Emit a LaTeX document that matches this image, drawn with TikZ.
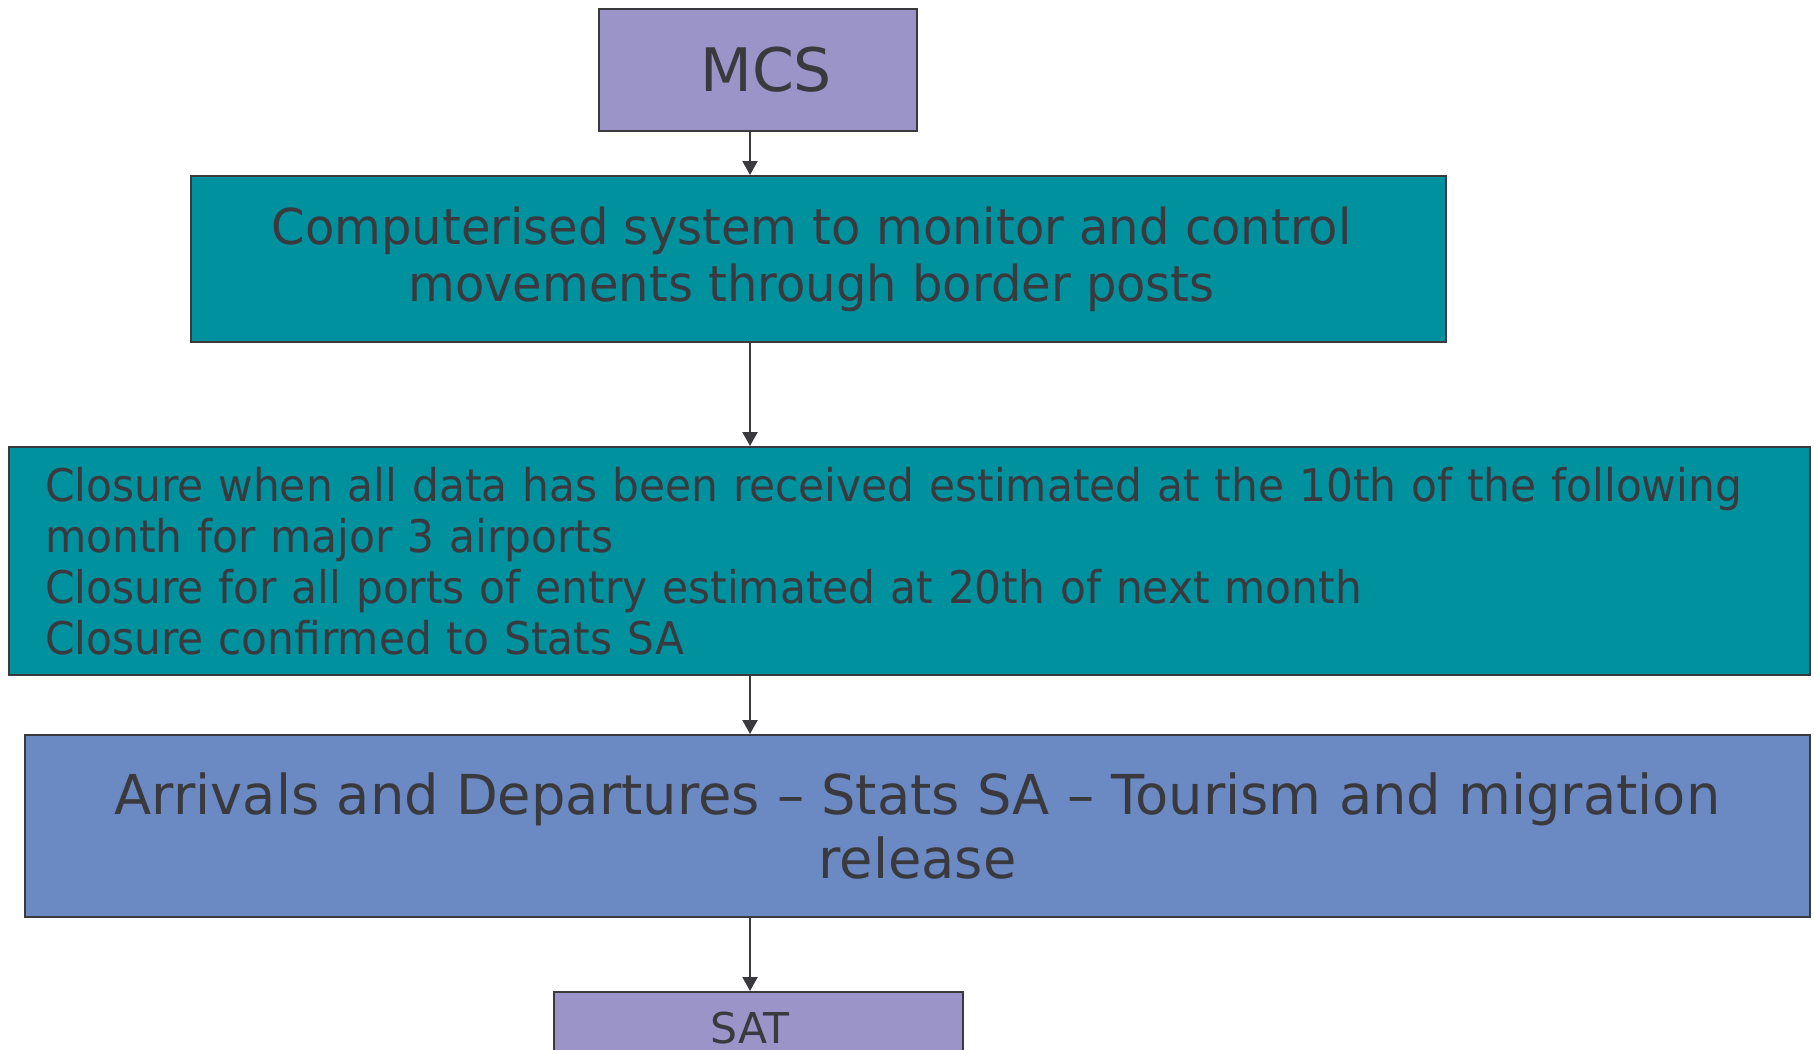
\documentclass[tikz,border=0pt]{standalone}
\usepackage{fontspec}
\setmainfont{DejaVu Sans}
\newfontfamily\fcs[FakeStretch=0.97]{DejaVu Sans}
\newfontfamily\fcl[FakeStretch=0.94]{DejaVu Sans}
\newfontfamily\fad[FakeStretch=0.987]{DejaVu Sans}
\usetikzlibrary{arrows.meta}
\definecolor{txt}{RGB}{58,57,62}
\definecolor{edge}{RGB}{58,57,62}
\definecolor{lav}{RGB}{155,148,200}
\definecolor{teal}{RGB}{0,145,158}
\definecolor{blu}{RGB}{107,138,196}
\tikzset{
  box/.style={draw=edge, line width=2.2pt, rectangle, inner sep=0pt, text=txt, anchor=north west},
  conn/.style={draw=edge, line width=2pt, -{Triangle[length=14pt,width=15pt]}},
}
\begin{document}
\begin{tikzpicture}[x=1pt,y=-1pt]
\useasboundingbox (0,0) rectangle (1814,1049);
\clip (0,0) rectangle (1814,1049);
\fill[white] (0,0) rectangle (1814,1049);
% MCS
\node[box, fill=lav, minimum width=318pt, minimum height=122pt, font=\fontsize{60}{72}\selectfont] (mcs) at (598,8) {\hspace*{16pt}MCS};
% Computerised
\node[box, fill=teal, minimum width=1255pt, minimum height=166pt, align=center,
      font=\fcs\fontsize{49.5}{57}\selectfont] (cs) at (190,175)
  {\hspace*{-14pt}Computerised system to monitor and control\\
   \hspace*{-14pt}movements through border posts};
% Closure
\node[box, fill=teal, minimum width=1801pt, minimum height=228pt, align=left,
      text width=1729pt, inner xsep=36pt, font=\fcl\fontsize{45}{51}\selectfont] (cl) at (8,446)
  {Closure when all data has been received estimated at the 10th of the following\\
   month for major 3 airports\\
   Closure for all ports of entry estimated at 20th of next month\\
   Closure confirmed to Stats SA};
% Arrivals
\node[box, fill=blu, minimum width=1785pt, minimum height=182pt, align=center,
      font=\fad\fontsize{55}{64}\selectfont] (ad) at (24,734)
  {Arrivals and Departures – Stats SA – Tourism and migration\\release};
% SAT
\node[box, fill=lav, minimum width=409pt, minimum height=110pt] (sat) at (553,991) {};
\node[text=txt, font=\fontsize{42.5}{50}\selectfont, anchor=base] (satl) at (750,1043) {SAT};
% arrows
\coordinate (ax) at (750,0);
\draw[conn] (mcs.south -| ax) -- (cs.north -| ax);
\draw[conn] (cs.south -| ax) -- (cl.north -| ax);
\draw[conn] (cl.south -| ax) -- (ad.north -| ax);
\draw[conn] (ad.south -| ax) -- (sat.north -| ax);
\end{tikzpicture}
\end{document}
